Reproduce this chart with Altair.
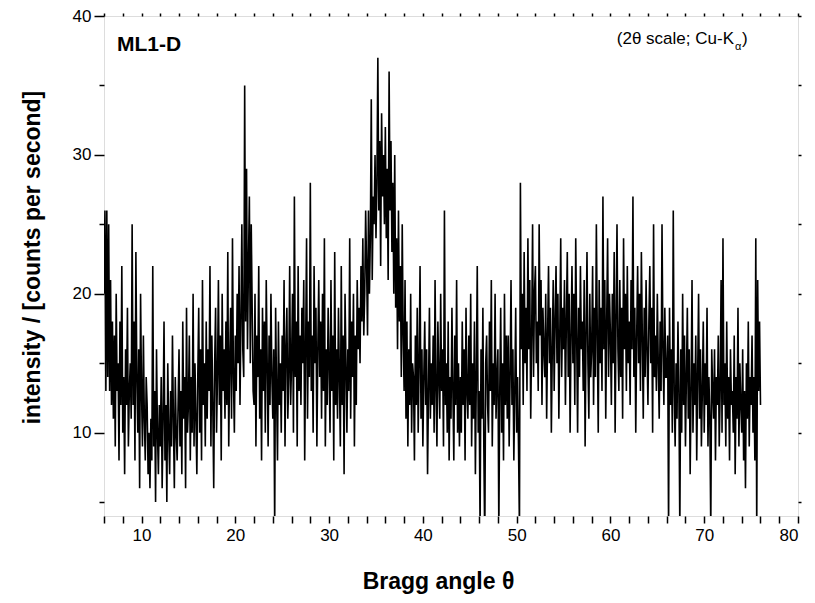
import altair as alt
import pandas as pd
import numpy as np

# Intensity (counts per second), 0.1 deg steps starting at 6.0 deg
block_06_16 = [20,26,13,26,14,25,13,21,12,18,
               11,17,9,20,13,15,8,18,12,22,
               10,14,7,16,12,19,9,13,15,11,
               25,12,18,8,23,14,10,16,6,20,
               13,9,17,11,8,14,12,7,10,6,
               11,8,22,9,13,5,16,10,7,12,
               9,14,6,11,18,8,12,5,15,10,
               7,13,9,17,11,6,14,10,8,12,
               16,9,13,7,18,11,14,6,19,10,
               12,17,8,14,10,20,9,15,11,7]
block_16_26 = [14,19,10,16,8,21,12,15,9,18,
               11,16,13,22,9,17,12,6,15,19,
               10,14,21,12,17,8,20,13,16,11,
               18,12,23,9,15,19,11,24,14,10,
               17,13,20,15,22,12,18,25,16,14,
               35,18,29,16,22,27,15,25,19,13,
               12,20,9,17,14,22,11,16,8,19,
               13,18,10,21,15,9,17,12,20,14,
               11,16,3,19,13,8,18,12,15,10,
               17,13,21,9,16,19,11,14,22,12]
block_26_36 = [15,20,10,27,14,18,9,22,13,17,
               12,19,15,21,8,16,24,11,18,14,
               28,13,17,10,22,15,19,9,16,21,
               14,18,11,20,13,24,9,16,12,19,
               15,10,21,13,17,8,23,12,16,11,
               19,14,9,22,12,17,7,20,15,10,
               16,13,24,11,18,14,20,9,17,12,
               21,16,19,15,22,18,24,17,20,26,
               22,17,26,20,24,34,21,27,25,30,
               24,28,37,26,31,22,33,27,30,25]
block_36_46 = [32,24,29,21,36,26,31,23,28,20,
               30,19,24,16,26,18,22,14,25,17,
               13,21,11,18,9,16,12,20,10,15,
               14,8,17,12,19,10,15,22,11,16,
               9,14,18,12,16,7,13,19,11,15,
               12,17,10,21,13,9,18,14,11,20,
               13,16,9,26,12,15,10,18,8,14,
               11,19,13,8,17,12,21,10,15,9,
               14,10,18,12,16,8,19,13,11,17,
               12,20,9,15,11,18,7,14,22,10]
block_46_56 = [13,3,16,11,19,9,2,15,17,12,
               10,18,13,21,9,15,12,20,11,14,
               16,3,13,19,10,15,8,20,12,17,
               11,17,9,14,21,12,16,8,13,19,
               10,14,9,3,28,16,20,12,23,15,
               19,13,24,16,21,11,17,25,14,20,
               22,15,18,13,25,17,21,12,19,16,
               14,20,11,17,22,15,19,10,16,21,
               13,18,22,15,20,11,17,24,14,19,
               16,21,12,18,23,14,20,10,17,22]
block_56_66 = [15,20,12,24,17,10,19,14,22,16,
               18,13,21,9,17,23,15,11,20,14,
               16,22,12,19,14,25,17,10,21,15,
               19,13,27,16,21,11,18,24,14,20,
               17,12,20,15,23,10,18,25,16,13,
               21,14,19,11,24,16,20,13,22,15,
               18,12,21,16,27,14,19,10,17,22,
               15,20,13,23,17,11,19,14,21,16,
               12,18,22,15,19,10,25,14,17,13,
               20,15,11,18,13,25,16,12,19,14]
block_66_76 = [14,17,3,19,12,16,10,26,13,9,
               15,11,18,13,3,16,10,20,12,17,
               9,14,19,11,16,7,13,21,10,15,
               12,17,8,14,20,11,16,9,13,18,
               10,15,12,19,9,14,11,3,16,13,
               11,16,8,14,12,17,9,13,21,10,
               24,12,15,9,18,11,14,8,16,12,
               13,10,17,7,14,11,19,9,15,12,
               10,16,8,13,6,15,11,18,9,14,
               12,17,10,14,8,24,3,21,13,18,
               12]

start_angle = 6.0
step = 0.1
intensity = (block_06_16 + block_16_26 + block_26_36 + block_36_46 +
             block_46_56 + block_56_66 + block_66_76)
angles = np.round(start_angle + step * np.arange(len(intensity)), 2)

x_ticks = list(range(6, 81, 2))
y_ticks = [5, 10, 15, 20, 25, 30, 35, 40]

df = pd.DataFrame({"angle": angles, "intensity": intensity})

FONT = "Liberation Sans"

x_scale = alt.Scale(domain=[6, 80], nice=False, zero=False)
y_scale = alt.Scale(domain=[4, 40], nice=False, zero=False)

line = alt.Chart(df).mark_line(color="black", strokeWidth=1.6, clip=True).encode(
    x=alt.X("angle:Q", scale=x_scale,
            axis=alt.Axis(values=x_ticks, labelExpr="datum.value % 10 == 0 ? datum.label : ''",
                          format="d", grid=False, domain=False, tickSize=7, tickWidth=1.5,
                          tickColor="black", labelFont=FONT, labelFontSize=17, labelColor="black",
                          labelPadding=4, title="Bragg angle θ", titleFont=FONT,
                          titleFontSize=23, titleFontWeight="bold", titleColor="black",
                          titleX=334, titleY=72, titleBaseline="alphabetic")),
    y=alt.Y("intensity:Q", scale=y_scale,
            axis=alt.Axis(values=y_ticks, labelExpr="datum.value % 10 == 0 ? datum.label : ''",
                          format="d", grid=False, domain=False,
                          tickSize={"condition": {"test": "datum.value % 10 == 0", "value": 10}, "value": 5},
                          tickWidth=1.5, tickColor="black", labelFont=FONT, labelFontSize=17,
                          labelColor="black", labelPadding=3,
                          title="intensity / [counts per second]", titleFont=FONT,
                          titleFontSize=23, titleFontWeight="bold", titleColor="black",
                          titleX=-65, titleY=241, titleBaseline="alphabetic", titleAngle=270)),
)

mirror = alt.Chart(df).mark_line(opacity=0).encode(
    x=alt.X("angle:Q", scale=x_scale,
            axis=alt.Axis(orient="top", values=x_ticks, labels=False, title=None, grid=False,
                          domain=False, tickSize=3, tickWidth=1.5, tickColor="black")),
    y=alt.Y("intensity:Q", scale=y_scale,
            axis=alt.Axis(orient="right", values=y_ticks, labels=False, title=None, grid=False,
                          domain=False, tickSize=3, tickWidth=1.5, tickColor="black")),
)

label_df = pd.DataFrame({"t": ["ML1-D"]})
sample_label = alt.Chart(label_df).mark_text(
    font=FONT, fontSize=21, fontWeight="bold", align="left", baseline="alphabetic", color="black"
).encode(x=alt.value(13), y=alt.value(35), text="t:N")

note_df = pd.DataFrame({"t": ["(2θ scale; Cu-K"]})
note = alt.Chart(note_df).mark_text(
    font=FONT, fontSize=17, align="right", baseline="alphabetic", color="black"
).encode(x=alt.value(630), y=alt.value(28), text="t:N")
sub = alt.Chart(pd.DataFrame({"t": ["α"]})).mark_text(
    font=FONT, fontSize=11, align="left", baseline="alphabetic", color="black"
).encode(x=alt.value(631), y=alt.value(34), text="t:N")
close = alt.Chart(pd.DataFrame({"t": [")"]})).mark_text(
    font=FONT, fontSize=17, align="left", baseline="alphabetic", color="black"
).encode(x=alt.value(638), y=alt.value(28), text="t:N")

chart = alt.layer(line, mirror, sample_label, note, sub, close).resolve_axis(
    x="independent", y="independent"
).properties(
    width=694, height=500,
    autosize=alt.AutoSizeParams(type="none"),
    padding={"left": 96, "top": 8, "right": 9, "bottom": 78},
).configure_view(stroke="black", strokeWidth=2).configure(background="white")

chart.save("out.html", embed_options={"renderer": "svg", "actions": False})
